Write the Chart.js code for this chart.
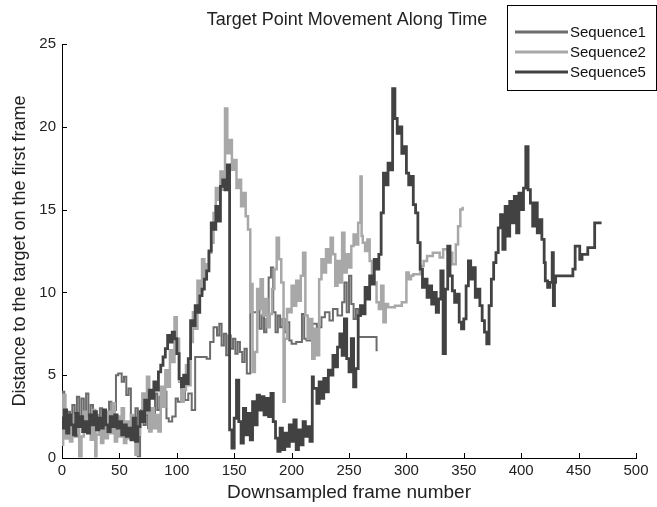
<!DOCTYPE html>
<html>
<head>
<meta charset="utf-8">
<script src="https://cdn.jsdelivr.net/npm/chart.js@4.4.0/dist/chart.umd.min.js"></script>
<style>
html, body { margin: 0; padding: 0; background: #fff; }
</style>
</head>
<body>
<canvas id="myChart" width="657" height="507"></canvas>
<script>
// frame numbers and distances
var seq1Frames = [0,2,3,5,7,9,11,13,15,17,19,21,23,25,27,29,31,33,35,37,39,41,43,45,47,49,52,54,56,58,
  60,62,64,66,68,69,71,73,75,77,79,81,83,85,87,89,91,93,96,99,101,104,107,110,113,116,126,129,132,135,
  137,139,141,143,145,147,149,151,153,155,157,159,161,164,170,172,174,176,178,180,182,184,186,188,190,192,194,196,198,200,
  204,209,211,213,218,222,226,229,233,236,240,244,246,248,250,252,254,256,258,260,274,275];
var seq1Dist = [3.3,4.0,2.4,1.2,2.8,1.6,3.2,1.3,3.7,2.4,3.6,2.1,3.9,1.8,3.2,1.5,2.6,1.9,3.0,1.6,2.8,2.0,3.4,1.7,2.9,5.0,5.1,4.6,4.9,3.8,
  4.2,2.6,1.8,3.0,0.1,2.2,2.9,2.0,2.6,1.8,3.0,2.6,3.9,2.9,3.7,3.2,4.0,2.4,2.2,2.5,3.6,3.4,4.1,3.5,3.9,2.9,6.1,6.0,7.0,7.9,
  7.4,8.1,6.8,7.5,6.2,7.4,6.6,7.2,6.3,7.0,6.4,5.8,6.6,5.1,8.8,9.1,7.8,8.6,7.6,8.4,10.9,11.5,8.8,7.6,8.6,7.9,8.4,7.6,8.2,7.1,
  6.9,7.0,8.7,7.2,7.1,8.1,7.9,8.5,8.8,8.3,9.0,8.6,9.4,10.6,8.8,11.0,9.3,8.4,9.0,7.3,7.3,6.5];

var seq2Frames = [0,1,3,5,7,9,11,13,15,17,19,21,23,25,27,29,30,32,34,36,38,40,42,44,46,48,50,52,54,56,
  58,60,62,64,66,68,70,72,74,76,78,80,82,84,86,88,90,92,94,96,98,100,102,104,106,108,110,112,114,116,
  118,120,122,124,126,128,130,132,134,136,138,140,142,144,146,148,150,152,154,156,158,160,162,164,165,166,168,170,171,173,
  175,177,179,181,183,185,187,189,191,193,194,196,198,200,202,204,206,208,210,212,214,216,218,220,222,224,226,228,230,232,
  234,236,238,240,242,244,246,248,250,252,254,256,258,260,261,262,264,266,268,270,272,274,276,278,280,282,284,290,296,300,
  302,304,306,312,315,318,323,329,332,336,340,343,345,347,349,350];
var seq2Dist = [2.5,0.8,3.8,1.2,2.3,1.0,2.6,1.5,2.0,0.1,1.3,2.8,1.6,2.4,1.1,2.9,0.1,1.4,2.3,0.9,2.0,1.2,2.8,1.5,3.3,1.0,2.5,1.3,3.0,0.9,
  2.2,1.2,2.6,1.5,0.2,1.4,2.2,3.9,2.7,4.9,1.6,3.0,1.8,2.6,1.6,4.3,3.1,5.3,4.3,6.5,5.8,8.5,7.2,4.6,3.4,4.1,5.6,4.4,7.0,8.8,
  7.8,10.7,10.0,12.0,10.8,11.7,12.4,13.0,14.8,16.3,15.6,17.3,16.2,21.1,18.4,19.2,17.4,18.0,16.3,16.8,15.2,16.0,14.6,13.8,8.8,10.5,5.2,6.4,10.2,9.0,
  10.8,8.6,9.6,7.9,8.7,10.2,11.4,13.3,12.0,10.6,3.4,7.2,9.0,8.8,10.4,9.2,10.7,9.5,11.0,12.4,8.6,7.2,8.4,6.0,7.8,6.2,10.8,12.0,11.2,12.6,
  11.8,13.3,12.3,10.4,11.9,10.6,13.6,11.2,12.3,11.5,12.8,13.5,12.9,14.2,17.0,13.4,13.0,12.5,13.2,11.9,11.0,10.6,9.4,9.0,10.4,8.2,9.3,9.1,9.2,9.4,
  11.2,10.8,11.0,11.1,11.6,11.9,12.2,12.4,12.1,12.6,12.4,11.7,12.9,14.0,15.0,15.1];

var seq5Frames = [0,2,4,6,8,10,12,14,16,18,20,22,24,26,28,30,32,34,36,38,40,42,44,46,48,50,52,54,56,58,
  60,62,64,66,68,70,72,74,76,78,80,82,84,86,88,90,92,94,96,98,100,102,104,106,108,110,112,114,116,118,
  120,122,124,126,128,130,132,134,136,138,140,142,144,146,148,150,152,154,156,158,160,162,164,166,168,170,172,174,176,178,
  180,182,184,186,188,190,192,194,196,198,200,202,204,206,208,210,212,214,216,218,219,222,224,226,228,230,232,234,236,238,
  240,242,244,246,248,250,252,254,256,258,260,262,264,266,268,270,272,274,276,278,280,282,284,286,288,290,292,294,296,298,
  300,302,304,306,308,310,312,314,316,318,320,322,324,326,328,330,332,334,336,338,340,342,344,346,348,350,352,354,356,358,
  360,362,364,366,368,370,372,374,376,378,380,382,384,386,388,390,392,394,396,398,400,402,404,406,408,410,412,414,416,418,
  420,421,423,425,427,428,429,430,445,447,451,453,458,464,470];
var seq5Dist = [2.5,1.8,2.9,1.5,2.6,2.0,1.4,2.7,1.9,2.5,1.6,2.2,1.5,2.6,2.0,2.8,1.7,2.4,1.8,2.9,2.0,1.6,2.5,1.9,2.6,1.8,2.2,1.4,2.0,1.3,
  1.8,1.1,2.4,1.0,1.9,2.8,2.2,3.5,2.9,4.1,3.6,4.6,4.1,5.2,5.6,6.1,6.6,7.4,7.0,7.6,7.2,6.3,4.8,4.3,5.0,4.5,6.0,8.3,8.0,9.2,
  8.8,9.8,10.2,10.8,11.3,12.5,14.2,13.8,15.2,14.3,16.4,16.8,16.2,17.7,1.7,0.6,2.4,4.7,2.2,0.9,3.0,1.4,2.7,1.1,3.4,2.0,3.8,2.9,3.7,2.6,
  3.6,2.5,3.9,2.2,1.2,0.4,1.8,0.5,1.5,0.7,2.0,1.0,2.3,0.5,1.7,0.8,2.2,1.3,1.9,1.0,4.9,4.2,3.3,4.6,3.6,4.8,4.0,5.3,5.0,6.2,
  5.5,6.7,7.5,6.2,8.4,6.0,5.2,7.2,4.3,5.4,8.6,9.2,8.7,10.3,9.6,11.0,10.5,12.0,11.4,12.3,14.8,17.2,16.5,17.8,17.4,22.3,20.5,19.6,20.0,18.4,
  18.8,17.2,16.5,17.0,15.3,14.8,13.0,11.4,10.3,10.8,9.7,10.4,9.3,10.0,8.8,9.6,11.3,6.3,10.2,12.8,11.0,10.1,9.4,9.9,8.2,7.8,8.4,10.4,11.9,10.8,
  11.5,9.7,10.2,9.2,8.3,7.6,6.9,9.2,10.8,11.8,12.4,13.9,14.7,12.6,15.2,13.4,15.5,14.2,15.8,13.6,16.0,15.0,16.3,18.8,16.2,15.4,14.0,15.4,13.6,14.4,
  13.2,11.8,10.7,10.3,10.6,12.4,9.2,10.6,11.0,11.4,12.8,12.0,12.3,12.7,14.2];

var seriesNames = ["Sequence1", "Sequence2", "Sequence5"];
var seriesColors = ["#6c6c6c", "#a8a8a8", "#424242"];
var xTicks = [0, 50, 100, 150, 200, 250, 300, 350, 400, 450, 500];
var yTicks = [0, 5, 10, 15, 20, 25];

function toPoints(fr, d) {
    return fr.map(function (f, i) { return {x: f, y: d[i]}; });
}

var fontName = "'Liberation Sans', Arial, sans-serif";

// matlab style ticks pointing into the axes
const innerTicks = {
    id: 'inner_ticks',
    afterDatasetsDraw: (chart) => {
        const {ctx, scales: {x, y}} = chart;
        ctx.save();
        ctx.strokeStyle = '#000';
        ctx.lineWidth = 1;
        ctx.beginPath();
        xTicks.forEach(function (t) {
            var px = Math.round(x.getPixelForValue(t)) + 0.5;
            ctx.moveTo(px, y.bottom);
            ctx.lineTo(px, y.bottom - 5);
        });
        yTicks.forEach(function (t) {
            var py = Math.round(y.getPixelForValue(t)) + 0.5;
            ctx.moveTo(x.left, py);
            ctx.lineTo(x.left + 5, py);
        });
        ctx.stroke();
        ctx.restore();
    }
};

// title centred over the axes, and the boxed legend in the top right corner
const titleAndLegend = {
    id: 'title_and_legend',
    afterDraw: (chart) => {
        const {ctx, chartArea} = chart;
        ctx.save();
        ctx.fillStyle = '#222';
        ctx.font = "18px " + fontName;
        ctx.textAlign = 'center';
        ctx.textBaseline = 'middle';
        ctx.fillText("Target Point Movement Along Time", (chartArea.left + chartArea.right) / 2 - 2, 20);

        var bx = 507, by = 5, bw = 150, bh = 86;
        ctx.fillStyle = '#fff';
        ctx.fillRect(bx, by, bw, bh);
        ctx.strokeStyle = '#000';
        ctx.lineWidth = 1;
        ctx.strokeRect(bx + 0.5, by + 0.5, bw - 1, bh - 1);
        ctx.font = "15px " + fontName;
        ctx.textAlign = 'left';
        chart.data.datasets.forEach(function (ds, i) {
            var ly = 32 + i * 20;
            ctx.strokeStyle = ds.borderColor;
            ctx.lineWidth = 3;
            ctx.beginPath();
            ctx.moveTo(515, ly);
            ctx.lineTo(568, ly);
            ctx.stroke();
            ctx.fillStyle = '#111';
            ctx.fillText(ds.label, 570, ly + 1);
        });
        ctx.restore();
    }
};

new Chart("myChart", {
    type: "line",
    plugins: [innerTicks, titleAndLegend],
    data: {
        datasets: [{
            label: seriesNames[0],
            data: toPoints(seq1Frames, seq1Dist),
            borderColor: seriesColors[0],
            borderWidth: 2,
            stepped: 'after',
            pointRadius: 0,
            order: 2
        }, {
            label: seriesNames[1],
            data: toPoints(seq2Frames, seq2Dist),
            borderColor: seriesColors[1],
            borderWidth: 2.5,
            stepped: 'after',
            pointRadius: 0,
            order: 1
        }, {
            label: seriesNames[2],
            data: toPoints(seq5Frames, seq5Dist),
            borderColor: seriesColors[2],
            borderWidth: 2.8,
            stepped: 'after',
            pointRadius: 0,
            order: 0
        }]
    },
    options: {
        responsive: false,
        animation: false,
        devicePixelRatio: 1,
        layout: { padding: { top: 44, right: 21, left: 0, bottom: 0 } },
        plugins: {
            legend: { display: false },
            tooltip: { enabled: false },
            title: { display: false }
        },
        scales: {
            x: {
                type: 'linear',
                min: 0,
                max: 500,
                afterFit: function (scale) { scale.height = 49; },
                afterBuildTicks: function (scale) {
                    scale.ticks = xTicks.map(function (v) { return {value: v}; });
                },
                grid: { drawOnChartArea: false, drawTicks: false },
                border: { color: '#000', width: 1 },
                ticks: {
                    padding: 4,
                    color: '#222',
                    maxRotation: 0,
                    font: { family: fontName, size: 15 }
                },
                title: {
                    display: true,
                    text: "Downsampled frame number",
                    color: '#222',
                    font: { family: fontName, size: 19 },
                    padding: { top: 0, bottom: 3 }
                }
            },
            y: {
                type: 'linear',
                min: 0,
                max: 25,
                afterFit: function (scale) { scale.width = 62; },
                afterBuildTicks: function (scale) {
                    scale.ticks = yTicks.map(function (v) { return {value: v}; });
                },
                grid: { drawOnChartArea: false, drawTicks: false },
                border: { color: '#000', width: 1 },
                ticks: {
                    padding: 6,
                    color: '#222',
                    font: { family: fontName, size: 15 }
                },
                title: {
                    display: true,
                    text: "Distance to the target on the first frame",
                    color: '#222',
                    font: { family: fontName, size: 18 },
                    padding: { top: 9, bottom: 0 }
                }
            }
        }
    }
});
</script>
</body>
</html>
